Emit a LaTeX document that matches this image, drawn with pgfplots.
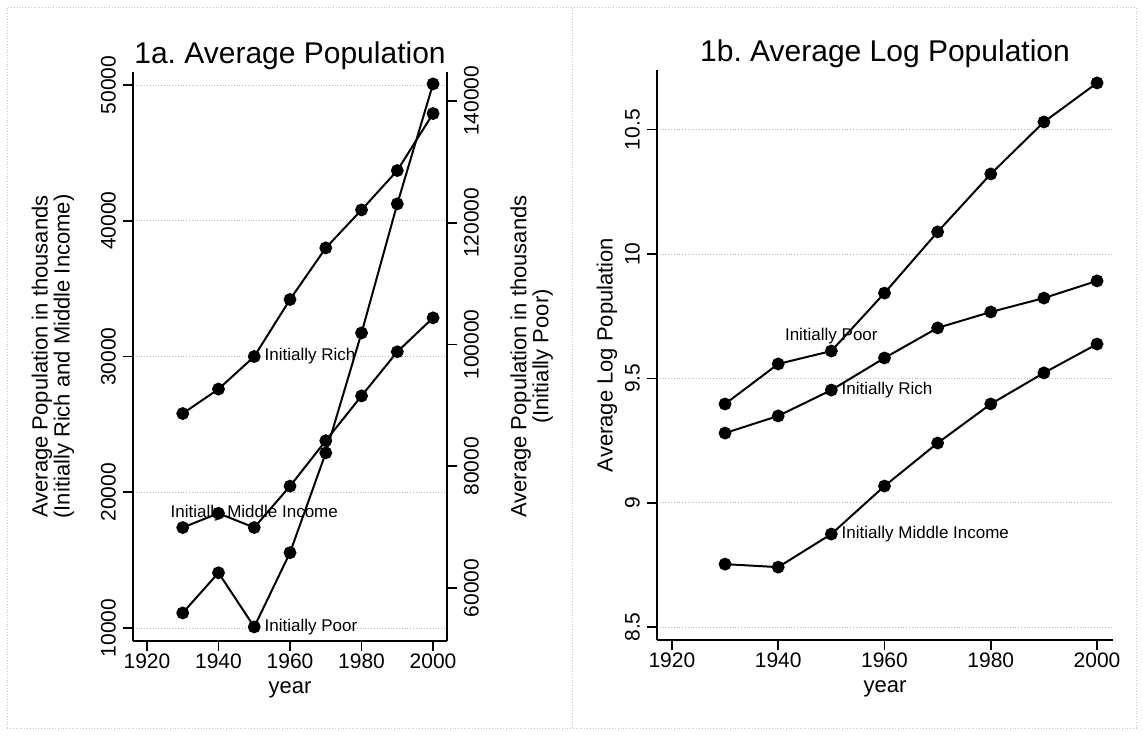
\documentclass[border=0pt]{standalone}
\usepackage{fontspec}
\setmainfont{Liberation Sans}
\usepackage{pgfplots}
\pgfplotsset{compat=1.18}
\pgfplotsset{
 stata/.style={
  scale only axis, anchor=south west, clip=false,
  xtick={1920,1940,1960,1980,2000},
  tick align=outside, major tick length=5pt,
  tick style={black, line width=0.8pt},
  axis line style={-, line width=1pt, black},
  x axis line style={-}, y axis line style={-},
  ticklabel style={font=\fontsize{10.5}{12}\selectfont},
  xticklabel style={yshift=2pt},
  /pgf/number format/fixed,
  /pgf/number format/assume math mode=true,
  /pgf/number format/1000 sep={},
  scaled y ticks=false,
  ymajorgrids, grid style={densely dotted, gray!55, line width=0.4pt},
  xlabel style={at={(axis description cs:0.5,0)}, anchor=base, yshift=-26pt, font=\fontsize{11}{13}\selectfont},
 },
}
\tikzset{
 ser/.style={black, line width=1pt, mark=*, mark size=2.7pt, mark options={solid, fill=black}},
 lab/.style={font=\fontsize{8.5}{10}\selectfont, inner sep=1pt},
 ylab/.style={rotate=90, align=center, font=\fontsize{11}{11}\selectfont},
 ttl/.style={anchor=base, yshift=4pt, font=\fontsize{15}{18}\selectfont},
}
\begin{document}
\begin{tikzpicture}
\path[use as bounding box] (0pt,0pt) rectangle (571.5pt,370pt);
\draw[gray!45, densely dotted, line width=0.4pt] (3.5pt,6pt) rectangle (568pt,366.5pt);
\draw[gray!45, densely dotted, line width=0.4pt] (286pt,6pt) -- (286pt,366.5pt);

% Panel 1a, left axis
\begin{axis}[stata, at={(66.5pt,49.5pt)}, width=157pt, height=284.5pt,
  xmin=1916.1, xmax=2003.9, ymin=9042, ymax=50960,
  ytick={10000,20000,30000,40000,50000},
  axis x line*=bottom, axis y line*=left,
  yticklabel style={rotate=90, anchor=south},
  xlabel={year}]
\addplot[ser] coordinates {(1930,25800) (1940,27600) (1950,30000) (1960,34200) (1970,38000) (1980,40800) (1990,43700) (2000,47900)};
\addplot[ser] coordinates {(1930,17400) (1940,18450) (1950,17400) (1960,20450) (1970,23800) (1980,27100) (1990,30350) (2000,32850)};
\node[lab, anchor=west, xshift=4pt] at (axis cs:1950,30000) {Initially Rich};
\node[lab, anchor=center, yshift=7pt] at (axis cs:1950,17400) {Initially Middle Income};
\node[ylab] at (axis description cs:-0.255,0.5) {Average Population in thousands\\(Initially Rich and Middle Income)};
\node[ttl] at (axis description cs:0.5,1) {1a.\ Average Population};
\end{axis}

% Panel 1a, right axis
\begin{axis}[stata, at={(66.5pt,49.5pt)}, width=157pt, height=284.5pt,
  xmin=1916.1, xmax=2003.9, ymin=51290, ymax=144760,
  ytick={60000,80000,100000,120000,140000},
  ymajorgrids=false,
  axis x line=none, axis y line*=right,
  yticklabel style={rotate=90, anchor=north}]
\addplot[ser] coordinates {(1930,55900) (1940,62500) (1950,53600) (1960,65800) (1970,82200) (1980,101900) (1990,123100) (2000,142800)};
\node[lab, anchor=west, xshift=4pt] at (axis cs:1950,53600) {Initially Poor};
\node[ylab] at (axis description cs:1.27,0.5) {Average Population in thousands\\(Initially Poor)};
\end{axis}

% Panel 1b
\begin{axis}[stata, at={(328.5pt,50pt)}, width=228pt, height=285pt,
  xmin=1917.2, xmax=2003, ymin=8.448, ymax=10.74,
  ytick={8.5,9,9.5,10,10.5},
  axis x line*=bottom, axis y line*=left,
  yticklabel style={rotate=90, anchor=south},
  xlabel={year}]
\addplot[ser] coordinates {(1930,9.397) (1940,9.558) (1950,9.610) (1960,9.843) (1970,10.089) (1980,10.322) (1990,10.531) (2000,10.688)};
\addplot[ser] coordinates {(1930,9.280) (1940,9.349) (1950,9.453) (1960,9.582) (1970,9.703) (1980,9.767) (1990,9.823) (2000,9.892)};
\addplot[ser] coordinates {(1930,8.753) (1940,8.741) (1950,8.874) (1960,9.067) (1970,9.240) (1980,9.397) (1990,9.522) (2000,9.638)};
\node[lab, anchor=center, yshift=7.5pt] at (axis cs:1950,9.610) {Initially Poor};
\node[lab, anchor=west, xshift=4pt] at (axis cs:1950,9.453) {Initially Rich};
\node[lab, anchor=west, xshift=4pt] at (axis cs:1950,8.874) {Initially Middle Income};
\node[ylab] at (axis description cs:-0.11,0.5) {Average Log Population};
\node[ttl] at (axis description cs:0.5,1) {1b.\ Average Log Population};
\end{axis}
\end{tikzpicture}
\end{document}
